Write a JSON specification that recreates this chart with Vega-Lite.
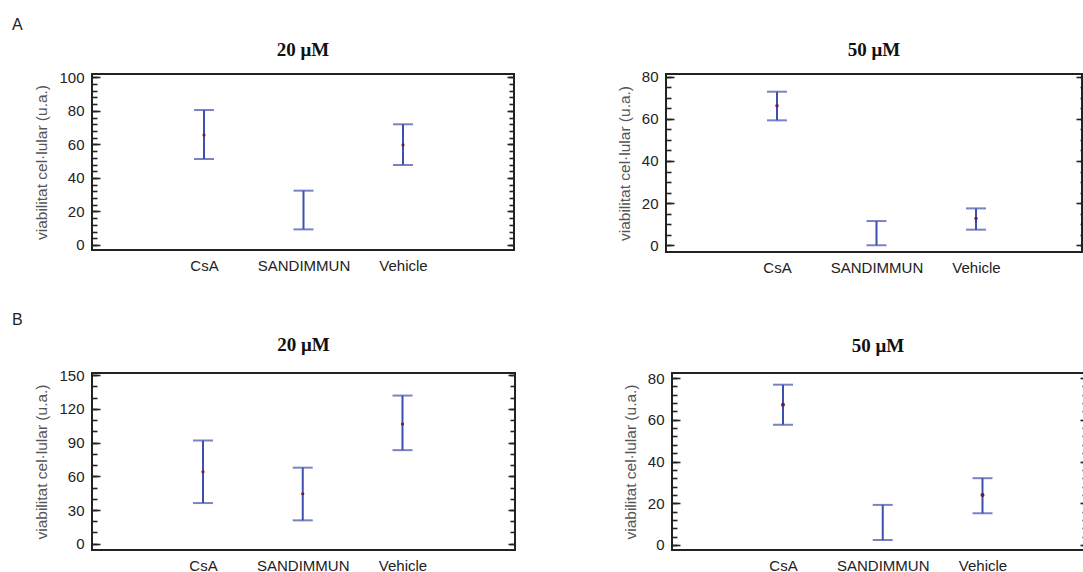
{
  "$schema": "https://vega.github.io/schema/vega-lite/v6.json",
  "background": "white",
  "padding": {"left": 11, "top": 16, "right": 0, "bottom": 0},
  "data": {"values": [
    {"panel": "A1", "cat": "CsA", "lo": 51.3, "hi": 80.5, "mean": 65.6},
    {"panel": "A1", "cat": "SANDIMMUN", "lo": 9.3, "hi": 32.4, "mean": null},
    {"panel": "A1", "cat": "Vehicle", "lo": 47.7, "hi": 72.0, "mean": 59.7},
    {"panel": "A2", "cat": "CsA", "lo": 59.3, "hi": 72.9, "mean": 66.2},
    {"panel": "A2", "cat": "SANDIMMUN", "lo": 0.0, "hi": 11.5, "mean": null},
    {"panel": "A2", "cat": "Vehicle", "lo": 7.4, "hi": 17.5, "mean": 12.7},
    {"panel": "B1", "cat": "CsA", "lo": 36.2, "hi": 91.9, "mean": 64.0},
    {"panel": "B1", "cat": "SANDIMMUN", "lo": 20.8, "hi": 67.7, "mean": 44.5},
    {"panel": "B1", "cat": "Vehicle", "lo": 83.3, "hi": 131.9, "mean": 106.6},
    {"panel": "B2", "cat": "CsA", "lo": 57.6, "hi": 76.8, "mean": 67.2},
    {"panel": "B2", "cat": "SANDIMMUN", "lo": 2.4, "hi": 19.2, "mean": null},
    {"panel": "B2", "cat": "Vehicle", "lo": 15.2, "hi": 32.0, "mean": 24.0}
  ]},
  "config": {
    "view": {"stroke": "#222", "strokeWidth": 2},
    "axis": {"grid": false, "domain": false, "labelFont": "Liberation Sans", "titleFont": "Liberation Sans", "labelFontSize": 15, "labelColor": "#222", "tickColor": "#222", "tickWidth": 1.6},
    "axisX": {"ticks": false, "labelAngle": 0, "labelPadding": 8, "title": null},
    "axisY": {"titleFontSize": 15.5, "titleFontWeight": "normal", "titleColor": "#555", "titlePadding": 9}
  },
  "spacing": 36,
  "vconcat": [
    {
      "title": {"text": "A", "anchor": "start", "frame": "bounds", "font": "Liberation Sans", "fontSize": 16, "fontWeight": "normal", "color": "#222", "dx": -22, "offset": 7},
      "spacing": 100,
      "hconcat": [
        {
          "width": 422, "height": 176,
          "title": {"text": "20 μM", "font": "Liberation Serif", "fontSize": 19, "fontWeight": "bold", "color": "#111", "offset": 10},
          "transform": [{"filter": "datum.panel === 'A1'"}],
          "encoding": {"x": {"field": "cat", "type": "nominal", "sort": ["CsA", "SANDIMMUN", "Vehicle"], "scale": {"type": "point", "padding": 0, "range": [112, 311]}}},
          "layer": [
            {"mark": {"type": "rule", "color": "#3f4fae", "strokeWidth": 2},
             "encoding": {"y": {"field": "lo", "type": "quantitative", "scale": {"domain": [-3, 102], "nice": false, "zero": false}, "axis": {"orient": "left", "values": [0, 20, 40, 60, 80, 100], "tickSize": -8, "labelPadding": 16, "title": "viabilitat cel·lular (u.a.)"}}, "y2": {"field": "hi"}}},
            {"mark": {"type": "tick", "color": "#3f4fae", "thickness": 2, "size": 20},
             "encoding": {"y": {"field": "lo", "type": "quantitative", "scale": {"domain": [-3, 102], "nice": false, "zero": false}, "axis": {"orient": "left", "values": [0, 4, 8, 12, 16, 20, 24, 28, 32, 36, 40, 44, 48, 52, 56, 60, 64, 68, 72, 76, 80, 84, 88, 92, 96, 100], "tickSize": -5, "labels": false, "title": null}}}},
            {"mark": {"type": "tick", "color": "#3f4fae", "thickness": 2, "size": 20},
             "encoding": {"y": {"field": "hi", "type": "quantitative", "scale": {"domain": [-3, 102], "nice": false, "zero": false}, "axis": {"orient": "right", "values": [0, 20, 40, 60, 80, 100], "tickSize": -7, "labels": false, "title": null}}}},
            {"mark": {"type": "circle", "color": "#6a1b3f", "size": 10, "opacity": 1},
             "encoding": {"y": {"field": "mean", "type": "quantitative", "scale": {"domain": [-3, 102], "nice": false, "zero": false}, "axis": {"orient": "right", "values": [0, 4, 8, 12, 16, 20, 24, 28, 32, 36, 40, 44, 48, 52, 56, 60, 64, 68, 72, 76, 80, 84, 88, 92, 96, 100], "tickSize": -5, "labels": false, "title": null}}}}
          ],
          "resolve": {"axis": {"y": "independent"}}
        },
        {
          "width": 416, "height": 178,
          "title": {"text": "50 μM", "font": "Liberation Serif", "fontSize": 19, "fontWeight": "bold", "color": "#111", "offset": 10},
          "transform": [{"filter": "datum.panel === 'A2'"}],
          "encoding": {"x": {"field": "cat", "type": "nominal", "sort": ["CsA", "SANDIMMUN", "Vehicle"], "scale": {"type": "point", "padding": 0, "range": [111, 310]}}},
          "layer": [
            {"mark": {"type": "rule", "color": "#3f4fae", "strokeWidth": 2},
             "encoding": {"y": {"field": "lo", "type": "quantitative", "scale": {"domain": [-3.2, 81.3], "nice": false, "zero": false}, "axis": {"orient": "left", "values": [0, 20, 40, 60, 80], "tickSize": -8, "labelPadding": 16, "title": "viabilitat cel·lular (u.a.)"}}, "y2": {"field": "hi"}}},
            {"mark": {"type": "tick", "color": "#3f4fae", "thickness": 2, "size": 20},
             "encoding": {"y": {"field": "lo", "type": "quantitative", "scale": {"domain": [-3.2, 81.3], "nice": false, "zero": false}, "axis": {"orient": "left", "values": [0, 5, 10, 15, 20, 25, 30, 35, 40, 45, 50, 55, 60, 65, 70, 75, 80], "tickSize": -5, "labels": false, "title": null}}}},
            {"mark": {"type": "tick", "color": "#3f4fae", "thickness": 2, "size": 20},
             "encoding": {"y": {"field": "hi", "type": "quantitative", "scale": {"domain": [-3.2, 81.3], "nice": false, "zero": false}, "axis": {"orient": "right", "values": [0, 20, 40, 60, 80], "tickSize": -6, "labels": false, "title": null}}}},
            {"mark": {"type": "circle", "color": "#6a1b3f", "size": 12, "opacity": 1},
             "encoding": {"y": {"field": "mean", "type": "quantitative", "scale": {"domain": [-3.2, 81.3], "nice": false, "zero": false}, "axis": {"orient": "right", "values": [0, 5, 10, 15, 20, 25, 30, 35, 40, 45, 50, 55, 60, 65, 70, 75, 80], "tickSize": -2, "labels": false, "title": null}}}}
          ],
          "resolve": {"axis": {"y": "independent"}}
        }
      ]
    },
    {
      "title": {"text": "B", "anchor": "start", "frame": "bounds", "font": "Liberation Sans", "fontSize": 16, "fontWeight": "normal", "color": "#222", "dx": -22, "offset": 7},
      "spacing": 105,
      "hconcat": [
        {
          "width": 423, "height": 177,
          "title": {"text": "20 μM", "font": "Liberation Serif", "fontSize": 19, "fontWeight": "bold", "color": "#111", "offset": 13},
          "transform": [{"filter": "datum.panel === 'B1'"}],
          "encoding": {"x": {"field": "cat", "type": "nominal", "sort": ["CsA", "SANDIMMUN", "Vehicle"], "scale": {"type": "point", "padding": 0, "range": [111, 310.5]}}},
          "layer": [
            {"mark": {"type": "rule", "color": "#3f4fae", "strokeWidth": 2},
             "encoding": {"y": {"field": "lo", "type": "quantitative", "scale": {"domain": [-5.6, 152], "nice": false, "zero": false}, "axis": {"orient": "left", "values": [0, 30, 60, 90, 120, 150], "tickSize": -8, "labelPadding": 16, "title": "viabilitat cel·lular (u.a.)"}}, "y2": {"field": "hi"}}},
            {"mark": {"type": "tick", "color": "#3f4fae", "thickness": 2, "size": 20},
             "encoding": {"y": {"field": "lo", "type": "quantitative", "scale": {"domain": [-5.6, 152], "nice": false, "zero": false}, "axis": {"orient": "left", "values": [0, 10, 20, 30, 40, 50, 60, 70, 80, 90, 100, 110, 120, 130, 140, 150], "tickSize": -5, "labels": false, "title": null}}}},
            {"mark": {"type": "tick", "color": "#3f4fae", "thickness": 2, "size": 20},
             "encoding": {"y": {"field": "hi", "type": "quantitative", "scale": {"domain": [-5.6, 152], "nice": false, "zero": false}, "axis": {"orient": "right", "values": [0, 30, 60, 90, 120, 150], "tickSize": -7, "labels": false, "title": null}}}},
            {"mark": {"type": "circle", "color": "#6a1b3f", "size": 10, "opacity": 1},
             "encoding": {"y": {"field": "mean", "type": "quantitative", "scale": {"domain": [-5.6, 152], "nice": false, "zero": false}, "axis": {"orient": "right", "values": [0, 10, 20, 30, 40, 50, 60, 70, 80, 90, 100, 110, 120, 130, 140, 150], "tickSize": -5, "labels": false, "title": null}}}}
          ],
          "resolve": {"axis": {"y": "independent"}}
        },
        {
          "width": 412, "height": 177,
          "title": {"text": "50 μM", "font": "Liberation Serif", "fontSize": 19, "fontWeight": "bold", "color": "#111", "offset": 15},
          "transform": [{"filter": "datum.panel === 'B2'"}],
          "encoding": {"x": {"field": "cat", "type": "nominal", "sort": ["CsA", "SANDIMMUN", "Vehicle"], "scale": {"type": "point", "padding": 0, "range": [111, 310.5]}}},
          "layer": [
            {"mark": {"type": "rule", "color": "#3f4fae", "strokeWidth": 2},
             "encoding": {"y": {"field": "lo", "type": "quantitative", "scale": {"domain": [-2.4, 82.4], "nice": false, "zero": false}, "axis": {"orient": "left", "values": [0, 20, 40, 60, 80], "tickSize": -8, "labelPadding": 16, "title": "viabilitat cel·lular (u.a.)"}}, "y2": {"field": "hi"}}},
            {"mark": {"type": "tick", "color": "#3f4fae", "thickness": 2, "size": 20},
             "encoding": {"y": {"field": "lo", "type": "quantitative", "scale": {"domain": [-2.4, 82.4], "nice": false, "zero": false}, "axis": {"orient": "left", "values": [0, 4, 8, 12, 16, 20, 24, 28, 32, 36, 40, 44, 48, 52, 56, 60, 64, 68, 72, 76, 80], "tickSize": -5, "labels": false, "title": null}}}},
            {"mark": {"type": "tick", "color": "#3f4fae", "thickness": 2, "size": 20},
             "encoding": {"y": {"field": "hi", "type": "quantitative", "scale": {"domain": [-2.4, 82.4], "nice": false, "zero": false}, "axis": {"orient": "right", "values": [0, 20, 40, 60, 80], "tickSize": -4, "labels": false, "title": null}}}},
            {"mark": {"type": "circle", "color": "#6a1b3f", "size": 16, "opacity": 1},
             "encoding": {"y": {"field": "mean", "type": "quantitative", "scale": {"domain": [-2.4, 82.4], "nice": false, "zero": false}, "axis": {"orient": "right", "values": [0, 4, 8, 12, 16, 20, 24, 28, 32, 36, 40, 44, 48, 52, 56, 60, 64, 68, 72, 76, 80], "tickSize": -2, "labels": false, "title": null}}}}
          ],
          "resolve": {"axis": {"y": "independent"}}
        }
      ]
    }
  ]
}
